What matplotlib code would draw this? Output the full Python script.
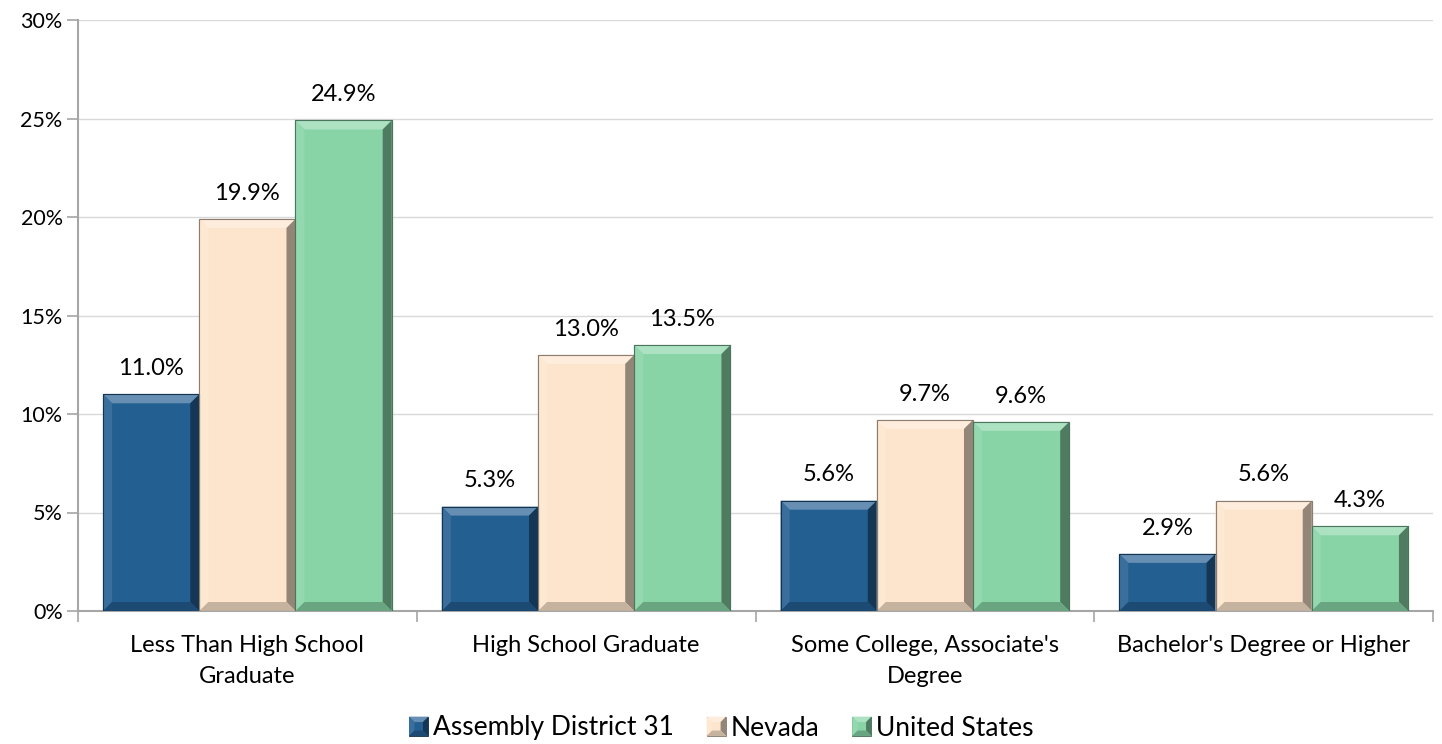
import matplotlib
matplotlib.use("Agg")
import matplotlib.pyplot as plt
from matplotlib.patches import Polygon, Rectangle
from matplotlib.colors import to_rgb
from matplotlib.legend_handler import HandlerBase
import numpy as np

categories = ["Less Than High School\nGraduate", "High School Graduate",
              "Some College, Associate's\nDegree", "Bachelor's Degree or Higher"]
series_names = ["Assembly District 31", "Nevada", "United States"]
district31 = [11.0, 5.3, 5.6, 2.9]
nevada = [19.9, 13.0, 9.7, 5.6]
united_states = [24.9, 13.5, 9.6, 4.3]
y_ticks = [0, 5, 10, 15, 20, 25, 30]
y_tick_labels = ["0%", "5%", "10%", "15%", "20%", "25%", "30%"]

series = [district31, nevada, united_states]
colors = ["#245F92", "#FDE5CD", "#88D4A7"]

plt.rcParams['font.family'] = ['Lato', 'DejaVu Sans']

fig = plt.figure(figsize=(14.42, 7.44), dpi=100)
ax = fig.add_axes([78/1442, 1-611/744, (1433-78)/1442, (611-20)/744])
ax.set_xlim(-0.5, 3.5)
ax.set_ylim(0, 30)

def mix(c, t, amt):
    c = np.array(to_rgb(c)); t = np.array(to_rgb(t))
    return tuple(c*(1-amt) + t*amt)

p0 = ax.transData.transform((0, 0))
p1 = ax.transData.transform((1, 1))
px_x = 1.0/(p1[0]-p0[0])
px_y = 1.0/(p1[1]-p0[1])
bev = 9

def bevel(x0, y0, w, h, col, bx, by, z=4, transform=None):
    x1 = x0 + w; y1 = y0 + h
    kw = dict(closed=True, edgecolor='none', zorder=z)
    if transform is not None:
        kw['transform'] = transform
    polys = [
        ([(x0, y1), (x1, y1), (x1-bx, y1-by), (x0+bx, y1-by)], mix(col, 'white', 0.30)),
        ([(x0, y0), (x0, y1), (x0+bx, y1-by), (x0+bx, y0+by)], mix(col, 'white', 0.10)),
        ([(x1, y0), (x1, y1), (x1-bx, y1-by), (x1-bx, y0+by)], mix(col, 'black', 0.42)),
        ([(x0, y0), (x1, y0), (x1-bx, y0+by), (x0+bx, y0+by)], mix(col, 'black', 0.22)),
    ]
    return [Polygon(pts, facecolor=fc, **kw) for pts, fc in polys]

width = 0.284
x = np.arange(len(categories))
for i, (vals, col) in enumerate(zip(series, colors)):
    xs = x + (i-1)*width
    bars = ax.bar(xs, vals, width=width, color=col, edgecolor=mix(col, 'black', 0.45),
                  linewidth=0.8, zorder=3)
    for b, v in zip(bars, vals):
        x0 = b.get_x(); h = b.get_height()
        bx = bev*px_x; by = min(bev*px_y, h/2)
        for p in bevel(x0, 0, b.get_width(), h, col, bx, by):
            ax.add_patch(p)
        ax.add_patch(Rectangle((x0, 0), b.get_width(), h, facecolor='none',
                               edgecolor=mix(col, 'black', 0.45), linewidth=0.8, zorder=5))
        ax.annotate(f"{v:.1f}%", (x0+b.get_width()/2, h), xytext=(0, 11),
                    textcoords='offset points', ha='center', va='bottom', fontsize=17, color='black')

legend_handles = [Rectangle((0, 0), 1, 1, facecolor=c) for c in colors]

class BevelHandler(HandlerBase):
    def create_artists(self, legend, orig_handle, xdescent, ydescent, width, height, fontsize, trans):
        col = to_rgb(orig_handle.get_facecolor())
        s = min(width, height)
        x0 = -xdescent + (width - s)/2; y0 = -ydescent + (height - s)/2
        base = Rectangle((x0, y0), s, s, facecolor=col, edgecolor=mix(col, 'black', 0.5),
                         linewidth=0.6, transform=trans)
        b = s*0.28
        return [base] + bevel(x0, y0, s, s, col, b, b, transform=trans)

ax.set_yticks(y_ticks)
ax.set_yticklabels(y_tick_labels, fontsize=15.5)
ax.yaxis.grid(True, color='#D9D9D9', linewidth=1, zorder=0)
ax.set_axisbelow(True)

ax.set_xticks(x)
ax.set_xticklabels(categories, fontsize=17, linespacing=1.6)
ax.tick_params(axis='x', length=0, pad=17)
ax.set_xticks(np.arange(-0.5, 4.0, 1.0), minor=True)
ax.tick_params(axis='x', which='minor', length=8, color='#A6A6A6', width=1.2)
ax.tick_params(axis='y', length=8, color='#A6A6A6', width=1.2, pad=3)

for s in ['top', 'right']:
    ax.spines[s].set_visible(False)
for s in ['left', 'bottom']:
    ax.spines[s].set_color('#A6A6A6')
    ax.spines[s].set_linewidth(1.5)

leg = fig.legend(legend_handles, series_names, loc='center', bbox_to_anchor=(0.5, 1-728/744),
                 bbox_transform=fig.transFigure,
                 ncol=3, frameon=False, fontsize=19, handlelength=0.75, handleheight=0.75,
                 handletextpad=0.15, columnspacing=1.25, borderpad=0.1,
                 handler_map={Rectangle: BevelHandler()})

fig.savefig("out.png", dpi=100)
